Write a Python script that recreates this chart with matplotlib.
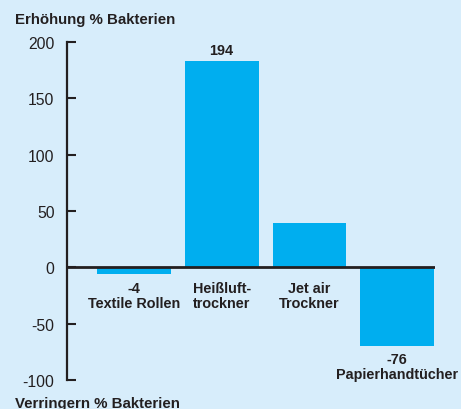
import matplotlib
matplotlib.use("Agg")
import matplotlib.pyplot as plt
import numpy as np

plt.rcParams['font.family'] = ['Liberation Sans', 'DejaVu Sans']

# data
categories = ["Textile Rollen", "Heißluft-\ntrockner", "Jet air\nTrockner", "Papierhandtücher"]
bar_heights = [-6, 183, 39, -70]      # heights as drawn
value_labels = ["-4", "194", "", "-76"]  # numbers printed in the chart
yticks = [-100, -50, 0, 50, 100, 150, 200]

bg = "#d7edfb"
bar_col = "#00aeef"
ink = "#231f20"

fig = plt.figure(figsize=(4.61, 4.10), dpi=100)
fig.patch.set_facecolor(bg)
ax = fig.add_axes([67/461, 29/410, 368/461, 338/410])
ax.set_facecolor(bg)

x = np.arange(len(categories))
ax.bar(x, bar_heights, width=0.84, color=bar_col, zorder=2)
ax.axhline(0, color=ink, lw=2, zorder=3)

ax.set_xlim(-0.761, 3.43)
ax.set_ylim(-100, 200)
ax.set_yticks(yticks)
ax.set_yticklabels([str(t) for t in yticks])
ax.set_xticks([])
ax.tick_params(axis='y', direction='in', length=6.5, width=1.5, pad=9,
               labelsize=11.3, colors=ink)
for s in ['top', 'right', 'bottom']:
    ax.spines[s].set_visible(False)
ax.spines['left'].set_color(ink)
ax.spines['left'].set_linewidth(1.6)

tk = dict(ha='center', fontsize=10.4, fontweight='bold', color=ink,
          linespacing=1.1)
# labels under / above bars
ax.text(0, -12, value_labels[0] + "\n" + categories[0], va='top', **tk)
ax.text(1, -12, categories[1], va='top', **tk)
ax.text(2, -12, categories[2], va='top', **tk)
ax.text(3, -75, value_labels[3] + "\n" + categories[3], va='top', **tk)
ax.text(1, 187, value_labels[1], va='bottom', **tk)

fig.text(15/461, 1 - 20/410, "Erhöhung % Bakterien", ha='left', va='center',
         fontsize=10.8, fontweight='bold', color=ink)
fig.text(15/461, 1 - 404/410, "Verringern % Bakterien", ha='left', va='center',
         fontsize=10.8, fontweight='bold', color=ink)

fig.savefig("out.png", dpi=100, facecolor=bg)
